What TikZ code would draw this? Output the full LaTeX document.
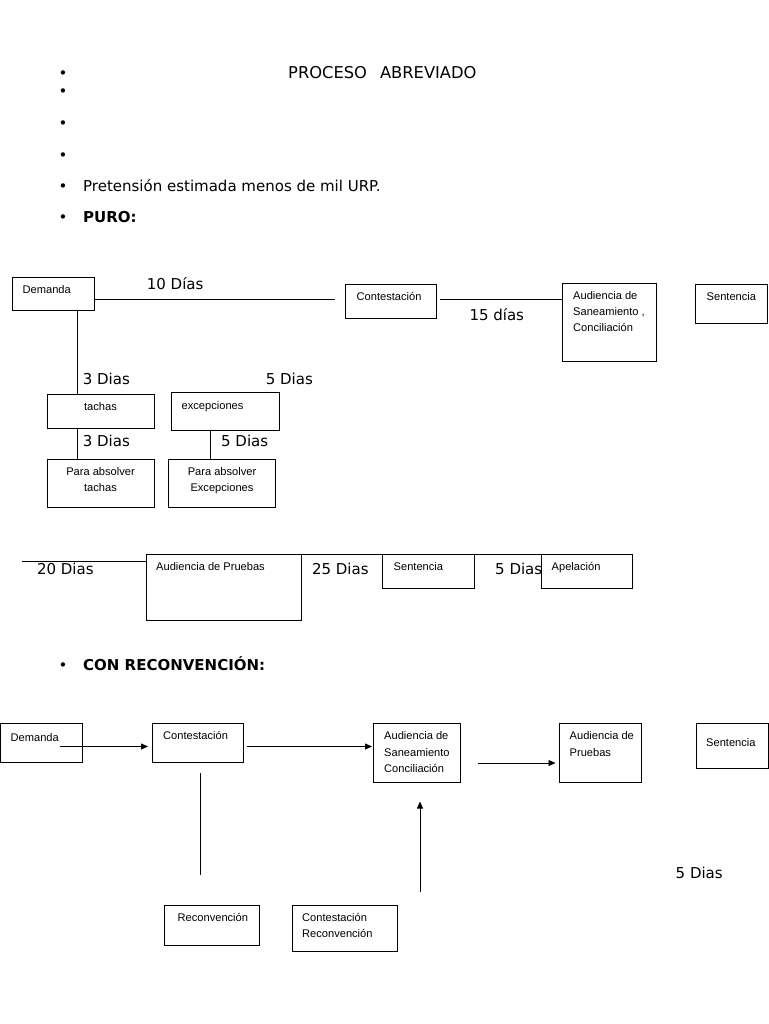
\documentclass[tikz,border=0pt]{standalone}
\usepackage{fontspec}
\setmainfont{DejaVu Sans}
\newfontfamily\boxfont{Liberation Sans}
\usetikzlibrary{arrows.meta}
\usetikzlibrary{positioning}

\begin{document}
\begin{tikzpicture}[x=1pt,y=-1pt,
  box/.style={draw,line width=0.8pt,rectangle,anchor=north west,inner sep=0pt,outer sep=0pt},
  txt/.style={font=\boxfont\fontsize{11.1}{16.3}\selectfont,anchor=north west,inner sep=0pt,align=left,xshift=10pt,yshift=-8pt},
  ctxt/.style={font=\boxfont\fontsize{11.1}{16.5}\selectfont,anchor=north,inner sep=0pt,align=center,yshift=-8pt},
  day/.style={font=\fontsize{15}{18}\selectfont,anchor=base west,inner sep=0pt},
  dot/.style={font=\fontsize{15}{18}\selectfont,anchor=base,inner sep=0pt},
  ln/.style={line width=0.8pt},
  arr/.style={line width=0.8pt,-{Triangle[length=7pt,width=6pt]}}]
\useasboundingbox (0,0) rectangle (768,1024);

\node[dot] (b1) at (63,78.7) {•};
\node[dot] (b2) at (63,96.7) {•};
\node[dot] (b3) at (63,128.7) {•};
\node[dot] (b4) at (63,160.7) {•};
\node[dot] (b5) at (63,191.7) {•};
\node[dot] (b6) at (63,222.7) {•};
\node[dot] (b7) at (63,670.7) {•};
\node[day,font=\fontsize{16.3}{18}\selectfont] (title) at (288,78.5) {PROCESO\hspace{13pt}ABREVIADO};
\node[day] (pret) at (83,191.5) {Pretensión estimada menos de mil URP.};
\node[day,font=\fontsize{15}{18}\selectfont\bfseries] (puro) at (83,222.5) {PURO:};
\node[day,font=\fontsize{15}{18}\selectfont\bfseries] (recon) at (83,670.5) {CON RECONVENCIÓN:};

\node[box,minimum width=82,minimum height=33,label={[txt]north west:Demanda}] (dem) at (12.5,277) {};
\node[box,minimum width=91,minimum height=34,label={[txt,xshift=1pt]north west:Contestación}] (cont) at (345.5,284.5) {};
\node[box,minimum width=94,minimum height=78,label={[txt,xshift=1pt]north west:Audiencia de\\Saneamiento ,\\Conciliación}] (aud) at (562,283) {};
\node[box,minimum width=72,minimum height=39,label={[txt,xshift=1pt]north west:Sentencia}] (sent) at (695.5,284) {};
\node[box,minimum width=107,minimum height=34,label={[ctxt]north:tachas}] (tach) at (47,394) {};
\node[box,minimum width=107,minimum height=48.5,label={[ctxt]north:Para absolver\\tachas}] (pat) at (47,459) {};
\node[box,minimum width=108,minimum height=38,label={[txt,xshift=0.5pt,yshift=-1pt]north west:excepciones}] (exc) at (171,392.5) {};
\node[box,minimum width=107,minimum height=48.5,label={[ctxt]north:Para absolver\\Excepciones}] (pae) at (168.5,459) {};

\coordinate (c10) at (335,299.5);
\coordinate (c15) at (440,299.5);
\coordinate (v1) at (77.5,310);
\coordinate (v2) at (210.5,430.5);
\draw[ln] (dem.east |- c10) -- (c10);
\draw[ln] (c15) -- (aud.west |- c15);
\draw[ln] (v1) -- (v1 |- tach.north);
\draw[ln] (v1 |- tach.south) -- (v1 |- pat.north);
\draw[ln] (v2) -- (v2 |- pae.north);

\node[day] (d10) at (146.7,289.3) {10 Días};
\node[day] (d15) at (469.3,320.7) {15 días};
\node[day] (d3a) at (82.7,384) {3 Dias};
\node[day] (d5a) at (265.7,384) {5 Dias};
\node[day] (d3b) at (82.7,446.7) {3 Dias};
\node[day] (d5b) at (221,446.7) {5 Dias};

\node[box,minimum width=155.5,minimum height=65.5,label={[txt]north west:Audiencia de Pruebas}] (apr) at (146,554.5) {};
\node[box,minimum width=92,minimum height=33.5,label={[txt,xshift=1.5pt]north west:Sentencia}] (sent2) at (382,554.5) {};
\node[box,minimum width=91,minimum height=33.5,label={[txt]north west:Apelación}] (apel) at (541.5,554.5) {};
\coordinate (l20) at (22,561);
\coordinate (l5) at (574,554.5);
\draw[ln] (l20) -- (l20 -| apr.west);
\draw[ln] (apr.north east) -- (sent2.north west);
\draw[ln] (sent2.north east) -- (l5);
\node[day] (d20) at (36.8,574) {20 Dias};
\node[day] (d25) at (311.8,574) {25 Dias};
\node[day] (d5c) at (495,574) {5 Dias};

\node[box,minimum width=82,minimum height=39.5,label={[txt,yshift=-2pt]north west:Demanda}] (dem3) at (0.5,723) {};
\node[box,minimum width=91,minimum height=39.5,label={[txt,xshift=1pt]north west:Contestación}] (cont3) at (152,723) {};
\node[box,minimum width=87,minimum height=59,label={[txt,xshift=1pt,yshift=-0.5pt]north west:Audiencia de\\Saneamiento\\Conciliación}] (aud3) at (373,723) {};
\node[box,minimum width=82,minimum height=59,label={[txt,xshift=0.5pt,yshift=-0.5pt]north west:Audiencia de\\Pruebas}] (apr3) at (559,723) {};
\node[box,minimum width=72,minimum height=45,label={[txt,yshift=-7pt]north west:Sentencia}] (sent3) at (696,723) {};
\node[box,minimum width=95,minimum height=40,label={[txt,xshift=3.5pt]north west:Reconvención}] (rec3) at (164,905) {};
\node[box,minimum width=105,minimum height=46.5,label={[txt]north west:Contestación\\Reconvención}] (crec3) at (292,905) {};

\coordinate (a1) at (60,746.5);
\coordinate (a2) at (247,746.5);
\coordinate (a3) at (478,763);
\coordinate (r1) at (200,773);
\coordinate (r2) at (200,875);
\coordinate (u1) at (420,891.5);
\coordinate (u2) at (420,801.5);
\draw[arr,shorten >=4pt] (a1) -- (a1 -| cont3.west);
\draw[arr,shorten >=1pt] (a2) -- (a2 -| aud3.west);
\draw[arr,shorten >=3.5pt] (a3) -- (a3 -| apr3.west);
\draw[ln] (r1) -- (r2);
\draw[arr] (u1) -- (u2);
\node[day] (d5d) at (675.5,878) {5 Dias};
\end{tikzpicture}
\end{document}
